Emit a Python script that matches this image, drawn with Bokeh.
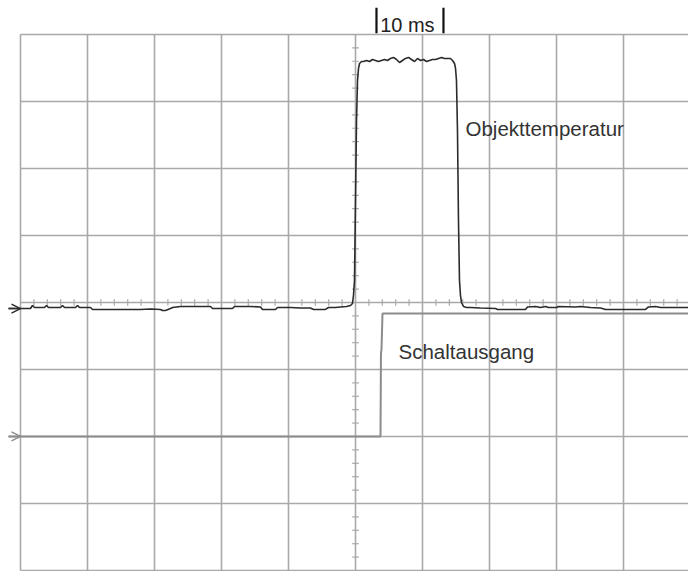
from bokeh.plotting import figure
from bokeh.models import Arrow, OpenHead, Range1d
from bokeh.core.properties import value
from bokeh.embed import file_html
from bokeh.resources import INLINE

# ---- data (time in ms, signal in screen divisions; 10 ms/div) ----
ms_per_div = 10
n_xdiv = 10
n_ydiv = 8
minor_per_div = 5

obj_t = [-1.79, 1.49, 1.79, 2.09, 3.58, 3.88, 4.18, 5.97, 6.27, 6.57, 8.21, 8.51, 8.81,
         10.45, 10.75, 17.91, 19.40, 20.90, 21.19, 21.64, 22.39, 22.69, 23.88, 26.87,
         28.36, 28.66, 31.64, 31.94, 34.33, 35.82, 36.12, 38.06, 38.36, 40.30, 41.79,
         43.28, 43.73, 45.52, 45.97, 47.01, 47.76, 48.66, 49.25, 49.55,
         49.70, 49.85, 50.00, 50.15, 50.30, 50.45, 50.60, 50.90,
         51.19, 51.64, 52.09, 52.54, 52.99, 53.43, 53.88, 54.33, 54.78, 55.22, 55.67,
         56.12, 56.57, 57.01, 57.46, 57.91, 58.36, 58.81, 59.25, 59.70, 60.15, 60.60,
         61.04, 61.49, 61.94, 62.39, 62.84, 63.28, 63.73, 64.18, 64.48, 64.78,
         64.93, 65.07, 65.22, 65.37, 65.52, 65.67, 65.82, 66.12, 66.57,
         67.16, 68.66, 70.90, 71.19, 75.37, 75.67, 76.87, 77.61, 78.36, 78.81, 80.00,
         80.30, 82.84, 83.58, 85.07, 86.57, 87.31, 93.28, 93.73, 94.78, 95.52, 99.70]
obj_v = [3.910, 3.910, 3.955, 3.925, 3.925, 3.955, 3.925, 3.925, 3.955, 3.925, 3.925, 3.955, 3.925,
         3.925, 3.896, 3.896, 3.903, 3.896, 3.881, 3.881, 3.910, 3.925, 3.940, 3.940,
         3.940, 3.910, 3.910, 3.940, 3.940, 3.933, 3.896, 3.896, 3.925, 3.925, 3.918,
         3.918, 3.896, 3.896, 3.925, 3.925, 3.933, 3.940, 3.955, 3.985,
         4.104, 4.328, 5.522, 6.716, 7.313, 7.493, 7.567, 7.597,
         7.597, 7.612, 7.597, 7.627, 7.612, 7.597, 7.612, 7.627, 7.612, 7.642, 7.657,
         7.627, 7.582, 7.612, 7.642, 7.657, 7.627, 7.597, 7.642, 7.612, 7.627, 7.597,
         7.612, 7.627, 7.627, 7.642, 7.657, 7.642, 7.642, 7.642, 7.612, 7.567,
         7.493, 7.313, 6.567, 5.224, 4.328, 4.104, 4.000, 3.940, 3.925,
         3.925, 3.918, 3.910, 3.896, 3.896, 3.933, 3.940, 3.925, 3.940, 3.925, 3.925,
         3.940, 3.933, 3.940, 3.925, 3.918, 3.896, 3.896, 3.933, 3.940, 3.925, 3.925]

sw_t = [-1.79, 53.73, 53.80, 53.88, 54.03, 99.70]
sw_v = [2.000, 2.000, 3.240, 3.300, 3.836, 3.836]

obj_ground = 3.910
sw_ground = 2.000

scale_bar_start = 53.13   # ms
label_obj = "Objekttemperatur"
label_sw = "Schaltausgang"
label_scale = "10 ms"

# ---- figure ----
x0, x1 = -2.985, 99.70
y0, y1 = -0.015, 8.507
p = figure(width=688, height=571, output_backend="svg", toolbar_location=None,
           x_range=Range1d(x0, x1), y_range=Range1d(y0, y1), min_border=0)
p.axis.visible = False
p.grid.visible = False
p.outline_line_color = None
p.background_fill_color = "white"

grid_col = "#a9a9a9"
x_max = n_xdiv * ms_per_div
# vertical grid lines
vx = [i * ms_per_div for i in range(n_xdiv + 1)]
p.segment(x0=vx, y0=[0] * len(vx), x1=vx, y1=[n_ydiv] * len(vx), line_color=grid_col, line_width=1.6)
# horizontal grid lines
hy = list(range(n_ydiv + 1))
p.segment(x0=[0] * len(hy), y0=hy, x1=[x_max] * len(hy), y1=hy, line_color=grid_col, line_width=1.6)

# minor ticks on centre axes
cx = x_max / 2
cy = n_ydiv / 2
tx = [i * ms_per_div / minor_per_div for i in range(n_xdiv * minor_per_div + 1) if i % minor_per_div]
tl_y = 0.05
p.segment(x0=tx, y0=[cy - tl_y] * len(tx), x1=tx, y1=[cy + tl_y] * len(tx), line_color=grid_col, line_width=1.2)
ty = [i / minor_per_div for i in range(n_ydiv * minor_per_div + 1) if i % minor_per_div]
tl_x = 0.5
p.segment(x0=[cx - tl_x] * len(ty), y0=ty, x1=[cx + tl_x] * len(ty), y1=ty, line_color=grid_col, line_width=1.2)

# traces
p.line(sw_t, sw_v, line_color="#8c8c8c", line_width=2)
p.line(obj_t, obj_v, line_color="#2b2b2b", line_width=1.6)

# ground markers
p.add_layout(Arrow(end=OpenHead(size=9, line_color="#2b2b2b", line_width=1.4),
                   x_start=-1.79, y_start=obj_ground, x_end=0, y_end=obj_ground,
                   line_color="#2b2b2b", line_width=1.4))
p.add_layout(Arrow(end=OpenHead(size=9, line_color="#8c8c8c", line_width=1.4),
                   x_start=-1.79, y_start=sw_ground, x_end=0, y_end=sw_ground,
                   line_color="#8c8c8c", line_width=1.6))

# scale bar
sb = [scale_bar_start, scale_bar_start + ms_per_div]
p.segment(x0=sb, y0=[8.02] * 2, x1=sb, y1=[8.40] * 2, line_color="#111111", line_width=2.2)
p.text(x=[scale_bar_start + 0.55], y=[8.14], text=[label_scale], text_font=value("Liberation Sans"),
       text_font_size="20px", text_color="#222222", text_baseline="alphabetic")

# labels
p.text(x=[66.42], y=[6.60], text=[label_obj], text_font=value("Liberation Sans"),
       text_font_size="20.5px", text_color="#333333", text_baseline="alphabetic")
p.text(x=[56.42], y=[3.27], text=[label_sw], text_font=value("Liberation Sans"),
       text_font_size="20.5px", text_color="#333333", text_baseline="alphabetic")

open("out.html", "w").write(file_html(p, INLINE))
